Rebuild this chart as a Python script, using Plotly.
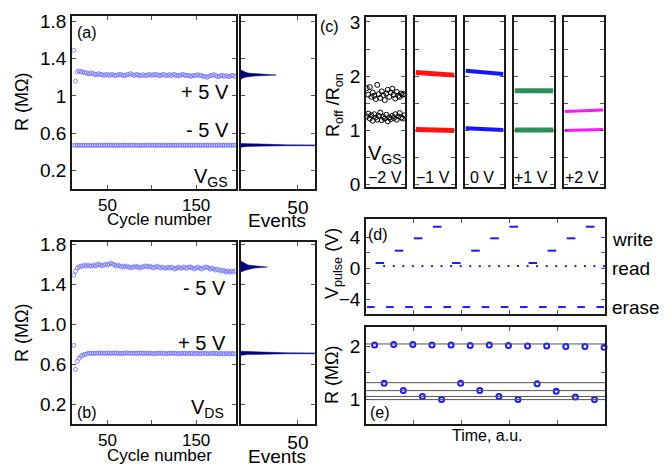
import plotly.graph_objects as go

W, H = 670, 466

# ---------------- data ----------------
cycles = list(range(12, 196, 2))  # 92 cycles

a_pos = [1.49, 1.16, 1.26, 1.27, 1.26, 1.26, 1.25, 1.25, 1.24, 1.24,
         1.25, 1.24, 1.23, 1.23, 1.24, 1.23, 1.23, 1.22, 1.23, 1.23,
         1.22, 1.23, 1.23, 1.22, 1.22, 1.23, 1.23, 1.23, 1.22, 1.22,
         1.23, 1.23, 1.24, 1.23, 1.22, 1.23, 1.23, 1.22, 1.22, 1.23,
         1.22, 1.22, 1.23, 1.23, 1.22, 1.23, 1.23, 1.23, 1.22, 1.22,
         1.23, 1.23, 1.22, 1.22, 1.23, 1.22, 1.23, 1.23, 1.22, 1.22,
         1.22, 1.23, 1.23, 1.22, 1.22, 1.22, 1.21, 1.22, 1.22, 1.22,
         1.23, 1.22, 1.22, 1.21, 1.21, 1.20, 1.21, 1.22, 1.22, 1.23,
         1.22, 1.21, 1.21, 1.22, 1.22, 1.21, 1.22, 1.21, 1.21, 1.22,
         1.22, 1.21]
a_neg = [0.47, 0.47, 0.47, 0.47, 0.468, 0.47, 0.47, 0.47, 0.47, 0.47,
         0.47, 0.47, 0.468, 0.47, 0.47, 0.47, 0.47, 0.47, 0.472, 0.47,
         0.47, 0.47, 0.47, 0.47, 0.47, 0.468, 0.47, 0.47, 0.47, 0.47,
         0.47, 0.472, 0.47, 0.47, 0.47, 0.47, 0.47, 0.47, 0.468, 0.47,
         0.47, 0.47, 0.47, 0.47, 0.472, 0.47, 0.47, 0.47, 0.47, 0.47,
         0.47, 0.47, 0.47, 0.468, 0.47, 0.47, 0.47, 0.47, 0.472, 0.47,
         0.47, 0.47, 0.47, 0.47, 0.47, 0.47, 0.472, 0.47, 0.47, 0.47,
         0.472, 0.47, 0.47, 0.47, 0.47, 0.472, 0.47, 0.47, 0.47, 0.472,
         0.47, 0.47, 0.472, 0.47, 0.47, 0.47, 0.472, 0.47, 0.47, 0.47,
         0.472, 0.47]
b_neg = [1.49, 1.53, 1.56, 1.57, 1.58, 1.58, 1.59, 1.58, 1.59, 1.58,
         1.58, 1.59, 1.58, 1.59, 1.60, 1.59, 1.58, 1.59, 1.60, 1.59,
         1.60, 1.61, 1.60, 1.59, 1.58, 1.59, 1.58, 1.57, 1.58, 1.57,
         1.58, 1.57, 1.56, 1.57, 1.57, 1.58, 1.57, 1.56, 1.57, 1.57,
         1.58, 1.58, 1.57, 1.58, 1.57, 1.56, 1.57, 1.58, 1.57, 1.56,
         1.57, 1.56, 1.56, 1.57, 1.56, 1.57, 1.56, 1.55, 1.56, 1.57,
         1.56, 1.56, 1.57, 1.56, 1.56, 1.57, 1.57, 1.56, 1.55, 1.56,
         1.57, 1.56, 1.55, 1.56, 1.57, 1.57, 1.56, 1.55, 1.56, 1.55,
         1.54, 1.55, 1.54, 1.53, 1.54, 1.53, 1.52, 1.53, 1.52, 1.53,
         1.52, 1.53]
b_pos = [0.79, 0.55, 0.63, 0.66, 0.68, 0.69, 0.70, 0.70, 0.71, 0.71,
         0.71, 0.71, 0.71, 0.71, 0.715, 0.71, 0.71, 0.71, 0.71, 0.715,
         0.71, 0.71, 0.71, 0.715, 0.71, 0.71, 0.71, 0.71, 0.71, 0.71,
         0.715, 0.71, 0.71, 0.71, 0.71, 0.71, 0.71, 0.715, 0.71, 0.71,
         0.71, 0.71, 0.71, 0.71, 0.71, 0.705, 0.71, 0.71, 0.71, 0.71,
         0.71, 0.71, 0.705, 0.71, 0.71, 0.71, 0.71, 0.71, 0.71, 0.705,
         0.71, 0.71, 0.71, 0.71, 0.705, 0.71, 0.71, 0.71, 0.705, 0.71,
         0.71, 0.705, 0.71, 0.71, 0.71, 0.705, 0.71, 0.705, 0.71, 0.71,
         0.705, 0.71, 0.705, 0.71, 0.705, 0.705, 0.71, 0.705, 0.705, 0.71,
         0.705, 0.705]

# histograms (R value, events)
ha_pos_R = [1.18, 1.195, 1.205, 1.215, 1.225, 1.235, 1.245, 1.255, 1.265, 1.28]
ha_pos_n = [0, 2, 5, 12, 31, 14, 7, 4, 2, 0]
ha_neg_R = [0.45, 0.458, 0.465, 0.47, 0.475, 0.482, 0.49]
ha_neg_n = [0, 6, 40, 160, 40, 6, 0]
hb_neg_R = [1.52, 1.535, 1.55, 1.56, 1.57, 1.58, 1.59, 1.61, 1.63]
hb_neg_n = [0, 3, 8, 12, 23, 10, 6, 3, 0]
hb_pos_R = [0.69, 0.698, 0.705, 0.71, 0.715, 0.722, 0.73]
hb_pos_n = [0, 6, 40, 160, 40, 6, 0]

# panel (c): Roff/Ron vs gate voltage
c_labels = ['\u22122 V', '\u22121 V', '0 V', '+1 V', '+2 V']
c_cycles = list(range(1, 27))
c_m2_high = [1.78, 1.66, 1.80, 1.62, 1.70, 1.64, 1.58, 1.84, 1.67, 1.60, 1.72, 1.65, 1.56,
             1.68, 1.75, 1.62, 1.70, 1.77, 1.66, 1.59, 1.71, 1.64, 1.62, 1.68, 1.66, 1.67]
c_m2_low = [1.26, 1.31, 1.22, 1.28, 1.18, 1.30, 1.24, 1.20, 1.27, 1.33, 1.19, 1.25, 1.22,
            1.29, 1.17, 1.24, 1.21, 1.27, 1.23, 1.30, 1.20, 1.26, 1.32, 1.24, 1.22, 1.28]
c_high_first = [2.07, 2.10, 1.73, 1.35]   # -1, 0, +1, +2 V
c_high_last = [2.02, 2.04, 1.73, 1.38]
c_low_first = [1.02, 1.04, 1.01, 1.00]
c_low_last = [1.00, 1.01, 1.01, 1.02]
c_colors = ['#ff1414', '#1414ff', '#2f8f5b', '#ff14ff']
c_widths = [5, 4, 5, 3]

# panel (d): pulse sequence
erase_start = [0.1, 2.1, 4.1, 6.1, 8.1, 10.1, 12.1, 14.1, 16.1, 18.1, 20.1, 22.1, 24.1]
erase_dur = 0.8
erase_V = -5.0
write_start = [1.0, 3.0, 5.0, 7.0, 9.0, 11.0, 13.0, 15.0, 17.0, 19.0, 21.0, 23.0]
write_dur = 0.9
write_V = [0.7, 2.3, 3.9, 5.4, 0.7, 2.3, 3.9, 5.4, 0.7, 2.3, 3.9, 5.4]
read_t = [1.9, 2.9, 3.9, 4.9, 5.9, 6.9, 7.9, 8.9, 9.9, 10.9, 11.9, 12.9,
          13.9, 14.9, 15.9, 16.9, 17.9, 18.9, 19.9, 20.9, 21.9, 22.9, 23.9, 24.9]
read_V = 0.3

# panel (e): resistance after each pulse
erase_t = [0.9, 2.9, 4.9, 6.9, 8.9, 10.9, 12.9, 14.9, 16.9, 18.9, 20.9, 22.9, 24.9]
erase_R = [2.02, 2.03, 2.03, 2.02, 2.02, 2.01, 2.02, 2.01, 2.00, 2.00, 1.99, 1.99, 1.98]
write_t = [1.9, 3.9, 5.9, 7.9, 9.9, 11.9, 13.9, 15.9, 17.9, 19.9, 21.9, 23.9]
write_R = [1.30, 1.16, 1.05, 0.99, 1.30, 1.16, 1.05, 0.99, 1.29, 1.15, 1.04, 0.99]
ref_R = [2.04, 1.31, 1.16, 1.05, 0.99]

# ---------------- helpers ----------------
FONT = 'Liberation Sans'


def xd(x0, x1):
    return [x0 / W, x1 / W]


def yd(y0, y1):
    return [1 - y1 / H, 1 - y0 / H]


def axis(minor_vals=None, **kw):
    base = dict(showline=True, linecolor='#1a1a1a', linewidth=1.5, mirror='ticks',
                ticks='inside', ticklen=4, tickcolor='#555', tickwidth=1,
                showgrid=False, zeroline=False, automargin=False)
    if minor_vals is not None:
        base['minor'] = dict(tickvals=minor_vals, ticks='inside', ticklen=4,
                             tickcolor='#555', tickwidth=1, showgrid=False)
    base.update(kw)
    return base


fig = go.Figure()
LB = 'rgba(110,110,255,0.8)'
NAVY = '#000080'

# (a)
fig.add_trace(go.Scatter(x=cycles, y=a_pos, mode='markers', xaxis='x', yaxis='y',
                         marker=dict(symbol='circle-open', size=4, color=LB, line=dict(width=1))))
fig.add_trace(go.Scatter(x=cycles, y=a_neg, mode='markers', xaxis='x', yaxis='y',
                         marker=dict(symbol='circle-open', size=4, color=LB, line=dict(width=1))))
for R, n in [(ha_pos_R, ha_pos_n), (ha_neg_R, ha_neg_n)]:
    fig.add_trace(go.Scatter(x=n, y=R, mode='lines', fill='tozerox', fillcolor=NAVY,
                             line=dict(color=NAVY, width=0.5), xaxis='x2', yaxis='y2'))
# (b)
fig.add_trace(go.Scatter(x=cycles, y=b_neg, mode='markers', xaxis='x3', yaxis='y3',
                         marker=dict(symbol='circle-open', size=4, color=LB, line=dict(width=1))))
fig.add_trace(go.Scatter(x=cycles, y=b_pos, mode='markers', xaxis='x3', yaxis='y3',
                         marker=dict(symbol='circle-open', size=4, color=LB, line=dict(width=1))))
for R, n in [(hb_neg_R, hb_neg_n), (hb_pos_R, hb_pos_n)]:
    fig.add_trace(go.Scatter(x=n, y=R, mode='lines', fill='tozerox', fillcolor=NAVY,
                             line=dict(color=NAVY, width=0.5), xaxis='x4', yaxis='y4'))

# (c)
for vals in (c_m2_high, c_m2_low):
    fig.add_trace(go.Scatter(x=c_cycles, y=vals, mode='markers', xaxis='x5', yaxis='y5',
                             cliponaxis=False,
                             marker=dict(symbol='circle-open', size=5, color='black',
                                         line=dict(width=1))))
for i in range(4):
    ax = str(6 + i)
    for first, last in ((c_high_first[i], c_high_last[i]), (c_low_first[i], c_low_last[i])):
        fig.add_trace(go.Scatter(x=[c_cycles[0], c_cycles[-1]], y=[first, last], mode='lines',
                                 cliponaxis=False, xaxis='x' + ax, yaxis='y' + ax,
                                 line=dict(color=c_colors[i], width=c_widths[i])))

# (d)
ex, ey = [], []
for t0 in erase_start:
    ex += [t0, t0 + erase_dur, None]
    ey += [erase_V, erase_V, None]
wx, wy = [], []
for t0, v in zip(write_start, write_V):
    wx += [t0, t0 + write_dur, None]
    wy += [v, v, None]
fig.add_trace(go.Scatter(x=ex, y=ey, mode='lines', xaxis='x10', yaxis='y10',
                         line=dict(color='#1a1aff', width=2)))
fig.add_trace(go.Scatter(x=wx, y=wy, mode='lines', xaxis='x10', yaxis='y10',
                         line=dict(color='#1a1aff', width=2)))
fig.add_trace(go.Scatter(x=read_t, y=[read_V] * len(read_t), mode='markers', xaxis='x10',
                         yaxis='y10', cliponaxis=False,
                         marker=dict(symbol='square', size=2, color='#1a1aff')))

# (e)
for v in ref_R:
    fig.add_shape(type='line', xref='x11 domain', x0=0, x1=1, yref='y11', y0=v, y1=v,
                  line=dict(color='#555', width=1))
for t, r in ((erase_t, erase_R), (write_t, write_R)):
    fig.add_trace(go.Scatter(x=t, y=r, mode='markers', xaxis='x11', yaxis='y11',
                             cliponaxis=False,
                             marker=dict(symbol='circle-open', size=5, color='#1a1aff',
                                         line=dict(width=2))))

layout = dict(width=W, height=H, margin=dict(l=0, r=0, t=0, b=0, pad=0, autoexpand=False),
              autosize=False, showlegend=False, plot_bgcolor='white', paper_bgcolor='white',
              font=dict(family=FONT, color='black', size=18))

# (a)
layout['xaxis'] = axis(domain=xd(72, 236), range=[10, 195], anchor='y',
                       tickvals=[50, 150], minor_vals=[100])
layout['yaxis'] = axis(domain=yd(16, 189), range=[0, 1.86], anchor='x',
                       tickvals=[0.2, 0.6, 1.0, 1.4, 1.8],
                       ticktext=['0.2', '0.6', '1', '1.4', '1.8'])
layout['xaxis2'] = axis(domain=xd(241, 315), range=[0, 65], anchor='y2', tickvals=[50])
layout['yaxis2'] = axis(domain=yd(16, 189), range=[0, 1.86], anchor='x2',
                        tickvals=[0.2, 0.6, 1.0, 1.4, 1.8], showticklabels=False)
# (b)
layout['xaxis3'] = axis(domain=xd(72, 236), range=[10, 195], anchor='y3',
                        tickvals=[50, 150], minor_vals=[100])
layout['yaxis3'] = axis(domain=yd(242, 424), range=[0.005, 1.82], anchor='x3',
                        tickvals=[0.2, 0.6, 1.0, 1.4, 1.8],
                        ticktext=['0.2', '0.6', '1.0', '1.4', '1.8'])
layout['xaxis4'] = axis(domain=xd(241, 315), range=[0, 65], anchor='y4', tickvals=[50])
layout['yaxis4'] = axis(domain=yd(242, 424), range=[0.005, 1.82], anchor='x4',
                        tickvals=[0.2, 0.6, 1.0, 1.4, 1.8], showticklabels=False)
# (c)
c_dom = [(366, 405), (415, 455), (465, 504), (514, 554), (564, 604)]
for i, (x0, x1) in enumerate(c_dom):
    n = str(5 + i)
    layout['xaxis' + n] = axis(domain=xd(x0, x1), range=[0.5, 26.5], anchor='y' + n,
                               showticklabels=False, ticks='')
    ykw = dict(domain=yd(17, 187), range=[-0.04, 3.09], anchor='x' + n,
               tickvals=[0, 1, 2, 3], minor_vals=[0.5, 1.5, 2.5])
    if i > 0:
        ykw.update(showticklabels=False)
    layout['yaxis' + n] = axis(**ykw)
# (d)
layout['xaxis10'] = axis(domain=xd(366, 605), range=[0, 25], anchor='y10',
                         tickvals=[5, 10, 15, 20], showticklabels=False)
layout['yaxis10'] = axis(domain=yd(219, 314), range=[-5.9, 6.4], anchor='x10',
                         tickvals=[-4, 0, 4], minor_vals=[-2, 2])
# (e)
layout['xaxis11'] = axis(domain=xd(366, 605), range=[0, 25], anchor='y11',
                         tickvals=[5, 10, 15, 20], showticklabels=False)
layout['yaxis11'] = axis(domain=yd(327, 424), range=[0.53, 2.36], anchor='x11',
                         tickvals=[1, 2], minor_vals=[1.5])

fig.update_layout(**layout)
# tick label fonts
fig.update_xaxes(tickfont=dict(family=FONT, size=17, color='black'))
fig.update_yaxes(tickfont=dict(family=FONT, size=19, color='black'))
fig.update_layout(xaxis2_tickfont_size=19, xaxis4_tickfont_size=19)


def note(text, x, y, size, xanchor='center', angle=0):
    fig.add_annotation(text=text, x=x / W, y=1 - y / H, xref='paper', yref='paper',
                       showarrow=False, xanchor=xanchor, yanchor='middle', textangle=angle,
                       font=dict(family=FONT, size=size, color='black'))


note('R (M\u03a9)', 22, 102, 18, angle=-90)
note('R (M\u03a9)', 22, 333, 18, angle=-90)
note('Cycle number', 159, 219, 17)
note('Cycle number', 159, 455, 17)
note('Events', 277, 220, 19)
note('Events', 277, 456, 19)
note('(a)', 87, 32, 16)
note('(b)', 87, 412, 16)
note('+ 5 V', 231, 92, 20, xanchor='right')
note('- 5 V', 231, 130, 20, xanchor='right')
note('V<sub>GS</sub>', 230, 178, 20, xanchor='right')
note('- 5 V', 228, 288, 20, xanchor='right')
note('+ 5 V', 228, 343, 20, xanchor='right')
note('V<sub>DS</sub>', 226, 408, 20, xanchor='right')
note('(c)', 329, 27, 16)
note('R<sub>off</sub> /R<sub>on</sub>', 334, 105, 18, angle=-90)
note('V<sub>GS</sub>', 385, 155, 20)
for lab, xc in zip(c_labels, [385, 433, 482, 531, 582]):
    note(lab, xc, 177, 16)
note('(d)', 378, 234, 16)
note('V<sub>pulse</sub> (V)', 333, 264, 18, angle=-90)
note('write', 610, 239, 19, xanchor='left')
note('read', 610, 268, 19, xanchor='left')
note('erase', 610, 307, 19, xanchor='left')
note('(e)', 380, 412, 16)
note('R (M\u03a9)', 332, 375, 18, angle=-90)
note('Time, a.u.', 487, 435, 16)

fig.write_html('out.html', config={'displayModeBar': False},
               post_script="document.body.style.margin='0';document.body.style.overflow='hidden';")
